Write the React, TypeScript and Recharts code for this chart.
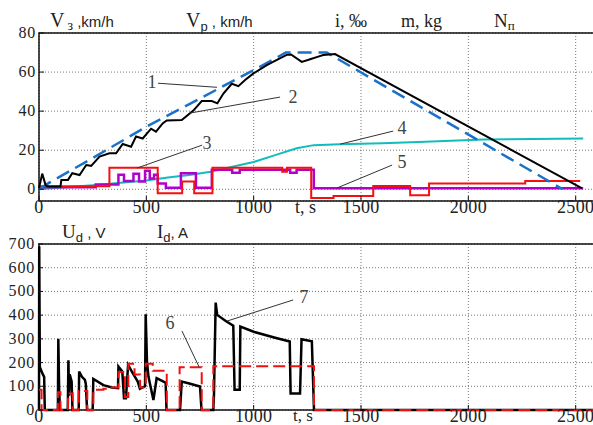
import {
  LineChart,
  Line,
  XAxis,
  YAxis,
  CartesianGrid,
  ReferenceArea,
  ReferenceLine,
} from "recharts";

const tTicks = [0, 500, 1000, 1500, 2000, 2500];
const speedTicks = [0, 10, 20, 30, 40, 50, 60, 70, 80];
const powerTicks = [0, 100, 200, 300, 400, 500, 600, 700];

// 1 - set speed (V з)
const vzT = [0, 50, 250, 500, 750, 1000, 1150, 1340, 2440];
const vzV = [0, 3.5, 16, 32, 46.5, 61, 70, 70, 0];

// 2 - actual speed (V p)
const vpT = [
  0, 15, 31, 42, 100, 104, 135, 155, 189, 220, 243, 282, 328, 359, 390, 429, 452, 483, 522,
  545, 576, 595, 665, 719, 758, 805, 831, 859, 898, 929, 960, 999, 1061, 1115, 1154, 1174,
  1224, 1263, 1297, 1324, 1379, 2530,
];
const vpV = [
  0.5, 8, 2, 1.4, 1.4, 4.8, 4.8, 8.2, 7.3, 12.4, 12, 16.7, 18.4, 18.4, 23.2, 21.8, 27, 26, 31,
  29.5, 33.7, 35.2, 35.5, 40.3, 45.2, 45.2, 44, 49, 54, 52.8, 55.9, 59.3, 63.6, 66.6, 68.8, 69,
  65.2, 66.6, 67.8, 68.7, 69.2, 0.5,
];

// 3 - gradient i (steps)
const gradT = [0, 328, 553, 667, 723, 808, 1133, 1155, 1268, 1372, 1557, 1729, 1817, 2265, 2521];
const gradV = [1.5, 11, -2, 4, -2, 11, 9, 11, -4.5, -3.5, 1.7, -3, 3, 4.3, 4.3];

// 4 - mass m
const massT = [0, 250, 500, 600, 700, 800, 900, 1000, 1100, 1200, 1280, 1400, 1600, 1800, 2070, 2300, 2535];
const massV = [0, 2, 4.5, 6, 7.3, 9, 11.5, 14, 17.5, 21, 22.6, 23.1, 23.6, 24.3, 25.5, 25.8, 26];

// 5 - notch position N п (steps)
const notchT = [0, 264, 370, 396, 440, 466, 494, 516, 536, 553, 591, 661, 731, 805, 900, 935, 1170, 1200, 1280, 2535];
const notchV = [1, 2.5, 7.5, 4.2, 8, 4, 9.5, 5.5, 7.5, 3, 0.8, 8.2, 0.8, 10, 8.5, 10, 8.5, 10, 0.5, 0.5];

// 7 - voltage U d
const udT = [
  0, 1, 4, 18, 24, 27, 88, 90, 94, 98, 134, 137, 140, 143, 152, 156, 185, 187, 200, 214, 218,
  224, 250, 253, 300, 340, 368, 370, 388, 396, 405, 415, 440, 460, 470, 494, 497, 503, 510, 533,
  548, 580, 590, 594, 657, 665, 700, 750, 757, 812, 815, 823, 830, 870, 905, 911, 935, 938, 1000,
  1100, 1168, 1172, 1216, 1223, 1271, 1281, 2590,
];
const udV = [
  0, 690, 180, 150, 140, 0, 0, 300, 80, 0, 0, 210, 60, 150, 120, 0, 0, 162, 140, 127, 110, 0, 0,
  131, 105, 95, 92, 183, 162, 50, 50, 190, 150, 120, 90, 100, 404, 204, 140, 42, 134, 120, 115, 0,
  0, 120, 112, 99, 0, 0, 63, 453, 401, 375, 355, 85, 85, 352, 330, 305, 289, 70, 70, 298, 290, 0, 0,
];

// 6 - current I d (steps)
const idT = [0, 12, 88, 100, 135, 157, 185, 225, 253, 300, 330, 370, 400, 416, 445, 471, 497, 530, 595, 655, 758, 812, 1281, 2590];
const idV = [85, 0, 75, 0, 70, 0, 80, 0, 85, 90, 95, 160, 55, 195, 150, 95, 195, 165, 0, 180, 0, 185, 0, 0];

const zip = (ts: number[], vs: number[]) => ts.map((t, i) => ({ t, v: vs[i] }));

const SERIF = "Liberation Serif";
const SANS = "Liberation Sans";
const T_MAX = 2590;

const LeftTick = ({ x, y, payload }: any) => (
  <g>
    <line x1={x + 3} x2={x + 8} y1={y} y2={y} stroke="#111" />
    <text x={x} y={y} dy={5} textAnchor="end" fontSize={16} letterSpacing={0.8} fill="#222" fontFamily={SERIF}>
      {payload.value}
    </text>
  </g>
);

const RightTick = ({ x, y }: any) => <line x1={x - 5} x2={x} y1={y} y2={y} stroke="#111" />;

const BottomTick = ({ x, y, payload }: any) => (
  <g>
    <line x1={x} x2={x} y1={y} y2={y - 5} stroke="#111" />
    <text x={x} y={y + 12} textAnchor="middle" fontSize={18} letterSpacing={0.3} fill="#222" fontFamily={SERIF}>
      {payload.value}
    </text>
  </g>
);

const TopTick = ({ x, y }: any) => <line x1={x} x2={x} y1={y} y2={y + 5} stroke="#111" />;

const App = () => {
  return (
    <div
      style={{
        position: "absolute",
        left: 0,
        top: 0,
        width: 593,
        height: 425,
        overflow: "hidden",
        background: "#fff",
        fontFamily: "'Liberation Serif'",
      }}
    >
      <div style={{ position: "absolute", left: 0, top: 0 }}>
        <LineChart width={600} height={225} margin={{ top: 33, right: 5, left: 0, bottom: 0 }}>
          <CartesianGrid stroke="#777" strokeDasharray="1 2" />
          <XAxis dataKey="t" type="number" domain={[0, T_MAX]} ticks={tTicks} height={24} axisLine={false} tickLine={false} tickSize={0} tickMargin={0} tick={<BottomTick />} />
          <XAxis xAxisId="top" orientation="top" type="number" domain={[0, T_MAX]} ticks={tTicks} height={0} axisLine={false} tickLine={false} tickSize={0} tickMargin={0} tick={<TopTick />} />
          <YAxis type="number" domain={[-6, 80]} ticks={speedTicks} width={39} axisLine={false} tickLine={false} tickSize={0} tickMargin={3} tick={<LeftTick />} />
          <YAxis yAxisId="right" orientation="right" type="number" domain={[-6, 80]} ticks={speedTicks} width={0} axisLine={false} tickLine={false} tickSize={0} tickMargin={0} tick={<RightTick />} />

          <Line data={zip(massT, massV)} dataKey="v" stroke="#12bcbc" strokeWidth={2} dot={false} isAnimationActive={false} />
          <Line data={zip(notchT, notchV)} dataKey="v" type="stepAfter" stroke="#b400cc" strokeWidth={2.5} dot={false} isAnimationActive={false} />
          <Line data={zip(gradT, gradV)} dataKey="v" type="stepAfter" stroke="#f51010" strokeWidth={2} dot={false} isAnimationActive={false} />
          <Line data={zip(vzT, vzV)} dataKey="v" stroke="#1a72c8" strokeWidth={2.5} strokeDasharray="14 7" dot={false} isAnimationActive={false} />
          <Line data={zip(vpT, vpV)} dataKey="v" stroke="#000" strokeWidth={2} dot={false} isAnimationActive={false} />

          <ReferenceLine segment={[{ x: 554, y: 54.3 }, { x: 829, y: 52.2 }]} stroke="#333" />
          <ReferenceLine segment={[{ x: 1123, y: 47.2 }, { x: 703, y: 39 }]} stroke="#333" />
          <ReferenceLine segment={[{ x: 760, y: 22.6 }, { x: 457, y: 10.9 }]} stroke="#333" />
          <ReferenceLine segment={[{ x: 1650, y: 29.8 }, { x: 1403, y: 23.1 }]} stroke="#333" />
          <ReferenceLine segment={[{ x: 1645, y: 12.4 }, { x: 1389, y: 0.7 }]} stroke="#333" />

          <ReferenceArea x1={0} x2={T_MAX} y1={-6} y2={80} fill="none" stroke="#111" strokeWidth={1.5} />
        </LineChart>
      </div>

      <div style={{ position: "absolute", left: 0, top: 215 }}>
        <LineChart width={600} height={225} margin={{ top: 29, right: 5, left: 0, bottom: 0 }}>
          <CartesianGrid stroke="#777" strokeDasharray="1 2" />
          <XAxis dataKey="t" type="number" domain={[0, T_MAX]} ticks={tTicks} height={30} axisLine={false} tickLine={false} tickSize={0} tickMargin={0} tick={<BottomTick />} />
          <XAxis xAxisId="top" orientation="top" type="number" domain={[0, T_MAX]} ticks={tTicks} height={0} axisLine={false} tickLine={false} tickSize={0} tickMargin={0} tick={<TopTick />} />
          <YAxis type="number" domain={[0, 700]} ticks={powerTicks} width={39} axisLine={false} tickLine={false} tickSize={0} tickMargin={4} tick={<LeftTick />} />
          <YAxis yAxisId="right" orientation="right" type="number" domain={[0, 700]} ticks={powerTicks} width={0} axisLine={false} tickLine={false} tickSize={0} tickMargin={0} tick={<RightTick />} />

          <Line data={zip(udT, udV)} dataKey="v" stroke="#000" strokeWidth={2.5} dot={false} isAnimationActive={false} />
          <Line data={zip(idT, idV)} dataKey="v" type="stepAfter" stroke="#f01010" strokeWidth={2} strokeDasharray="12 5" dot={false} isAnimationActive={false} />

          <ReferenceLine segment={[{ x: 666, y: 333 }, { x: 746, y: 181 }]} stroke="#333" />
          <ReferenceLine segment={[{ x: 1184, y: 464 }, { x: 876, y: 375 }]} stroke="#333" />

          <ReferenceArea x1={0} x2={T_MAX} y1={0} y2={700} fill="none" stroke="#111" strokeWidth={1.5} />
        </LineChart>
      </div>

      <svg width={593} height={425} style={{ position: "absolute", left: 0, top: 0, pointerEvents: "none" }}>
        <g fill="#222">
          <text x={50} y={27} fontSize={20} fontFamily={SERIF}>
            V<tspan fontSize={14} dx={3} dy={3}>з</tspan>
            <tspan dy={-3} fontFamily={SANS} fontSize={15}> ,km/h</tspan>
          </text>
          <text x={186} y={27} fontSize={20} fontFamily={SERIF}>
            V<tspan fontSize={13} fontFamily={SANS} dy={4}>p</tspan>
            <tspan dy={-4} fontFamily={SANS} fontSize={15}> , km/h</tspan>
          </text>
          <text x={335} y={27} fontSize={18} fontFamily={SERIF}>i, ‰</text>
          <text x={401} y={27} fontSize={18} fontFamily={SERIF}>m, kg</text>
          <text x={494} y={27} fontSize={19} fontFamily={SERIF}>
            N<tspan fontSize={13} dy={3}>п</tspan>
          </text>
          <text x={295} y={213} fontSize={18} fontFamily={SERIF}>t, s</text>

          <text x={62} y={238} fontSize={19} fontFamily={SERIF}>
            U<tspan fontSize={13} fontFamily={SANS} dy={4}>d</tspan>
            <tspan dy={-4} fontFamily={SANS} fontSize={15}> , V</tspan>
          </text>
          <text x={157} y={238} fontSize={19} fontFamily={SERIF}>
            I<tspan fontSize={13} fontFamily={SANS} dy={4}>d</tspan>
            <tspan dy={-4} fontFamily={SANS} fontSize={15}>, A</tspan>
          </text>
          <text x={293} y={421} fontSize={17} fontFamily={SERIF}>t, s</text>
        </g>
        <g fill="#444" fontFamily={SERIF} fontSize={18} textAnchor="middle">
          <text x={152} y={88}>1</text>
          <text x={293} y={103}>2</text>
          <text x={207} y={149}>3</text>
          <text x={402} y={134}>4</text>
          <text x={402} y={168}>5</text>
          <text x={170} y={329}>6</text>
          <text x={304} y={303}>7</text>
        </g>
      </svg>
    </div>
  );
};

export default App;
